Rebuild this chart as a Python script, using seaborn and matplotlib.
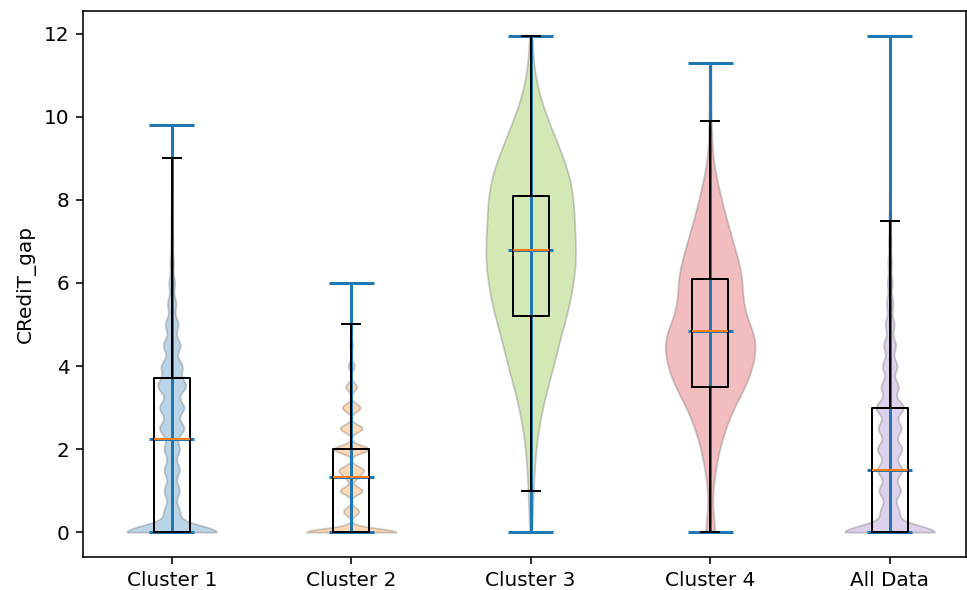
import numpy as np
import pandas as pd
import matplotlib
matplotlib.use("Agg")
import matplotlib.pyplot as plt
import seaborn as sns

# Category labels along the x axis
groups = ["Cluster 1", "Cluster 2", "Cluster 3", "Cluster 4", "All Data"]

# CRediT gap values per group, stored as (value, count) tables
c1_values = [0.0, 0.5, 1.0, 1.5, 2.0, 2.5, 3.0, 3.5, 3.7, 4.0, 4.5, 5.0, 5.5,
             6.0, 6.5, 7.0, 7.5, 8.0, 8.5, 9.0, 9.8]
c1_counts = [600, 100, 100, 100, 100, 160, 160, 160, 40, 130, 110, 84, 56,
             38, 24, 16, 10, 6, 3, 2, 1]

c2_values = [0.0, 0.5, 1.0, 1.33, 1.5, 2.0, 2.5, 3.0, 3.5, 4.0, 4.5, 5.0, 5.5, 6.0]
c2_counts = [700, 120, 170, 80, 180, 270, 170, 140, 86, 48, 22, 10, 3, 1]

c3_values = [0.0, 0.5, 1.0, 1.5, 2.0, 2.5, 3.0, 3.5, 4.0, 4.5, 5.0, 5.2, 5.5,
             6.0, 6.5, 6.8, 7.0, 7.5, 8.0, 8.1, 8.5, 9.0, 9.5, 10.0, 10.5,
             11.0, 11.5, 11.95]
c3_counts = [1, 1, 2, 2, 3, 5, 7, 11, 15, 19, 16, 6, 25,
             27, 29, 8, 22, 30, 23, 6, 26, 22, 16, 10, 5,
             2, 1, 1]

c4_values = [0.0, 0.5, 1.0, 1.5, 2.0, 2.5, 3.0, 3.5, 4.0, 4.5, 4.85, 5.0, 5.5,
             6.0, 6.1, 6.5, 7.0, 7.5, 8.0, 8.5, 9.0, 9.5, 9.9, 10.6, 11.3]
c4_counts = [6, 1, 2, 4, 7, 12, 18, 28, 34, 36, 6, 26, 26,
             22, 4, 22, 18, 13, 9, 5, 2, 1, 1, 1, 1]

all_values = [0.0, 0.5, 1.0, 1.5, 2.0, 2.5, 3.0, 3.5, 4.0, 4.5, 5.0, 5.5, 6.0,
              6.5, 7.0, 7.5, 8.0, 8.5, 9.0, 9.5, 10.0, 10.5, 11.3, 11.95]
all_counts = [600, 120, 140, 160, 160, 150, 180, 112, 95, 78, 58, 42, 32,
              24, 17, 12, 7, 4, 3, 2, 1, 1, 1, 1]

# Violin body colours and kernel bandwidths (in data units)
body_colors = ["#1f77b4", "#ff7f0e", "#70b608", "#d62728", "#9467bd"]
kde_bw = [0.17, 0.09, 0.58, 0.38, 0.17]

tables = [(c1_values, c1_counts), (c2_values, c2_counts), (c3_values, c3_counts),
          (c4_values, c4_counts), (all_values, all_counts)]
samples = [np.repeat(np.asarray(v, float), c) for v, c in tables]

df = pd.DataFrame({
    "group": np.repeat(groups, [len(s) for s in samples]),
    "CRediT_gap": np.concatenate(samples),
})

W, H, DPI = 967, 590, 144
fig = plt.figure(figsize=(W / DPI, H / DPI), dpi=DPI)
ax = fig.add_axes([83.3 / W, 33 / H, (965.5 - 83.3) / W, 546 / H])

# Violin bodies, one group at a time so each gets its own bandwidth
for i, g in enumerate(groups):
    sub = df[df["group"] == g]
    sd = sub["CRediT_gap"].std()
    sns.violinplot(data=sub, x="group", y="CRediT_gap", order=groups,
                   color=body_colors[i], saturation=1, width=0.5, cut=0,
                   inner=None, density_norm="width", bw_method=kde_bw[i] / sd,
                   gridsize=400, linewidth=0.9, linecolor="0.35", alpha=0.3,
                   ax=ax)

pos = np.arange(len(groups))
mins = np.array([s.min() for s in samples])
maxs = np.array([s.max() for s in samples])
meds = np.array([np.median(s) for s in samples])

# Extrema bars and median ticks of the violins
ax.vlines(pos, mins, maxs, color="C0", lw=1.5)
for y in (mins, maxs, meds):
    ax.hlines(y, pos - 0.125, pos + 0.125, color="C0", lw=1.5)

# Box plots on top
ax.boxplot(samples, positions=pos, widths=0.2, showfliers=False,
           manage_ticks=False)

ax.set_xlim(-0.4925, 4.4225)
ax.set_ylim(-0.5975, 12.5475)
ax.set_yticks(range(0, 13, 2))
ax.set_xticks(pos)
ax.set_xticklabels(groups)
ax.set_xlabel("")
ax.set_ylabel("CRediT_gap")

fig.savefig("out.png", dpi=DPI)
